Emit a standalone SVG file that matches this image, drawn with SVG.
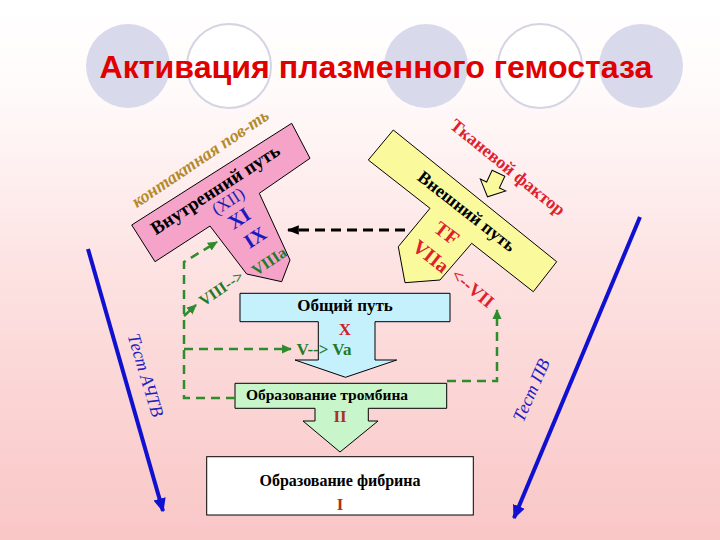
<svg xmlns="http://www.w3.org/2000/svg" width="720" height="540" viewBox="0 0 720 540">
<defs>
<linearGradient id="bg" x1="0" y1="0" x2="0" y2="1">
<stop offset="0" stop-color="#ffffff"/>
<stop offset="0.17" stop-color="#fffafa"/>
<stop offset="0.5" stop-color="#fde2e2"/>
<stop offset="1" stop-color="#f9c6c6"/>
</linearGradient>
<marker id="ag" viewBox="0 0 10 10" refX="9" refY="5" markerWidth="10" markerHeight="10" markerUnits="userSpaceOnUse" orient="auto"><path d="M0,0.5 L10,5 L0,9.5 z" fill="#2e8b2e"/></marker>
<marker id="ab" viewBox="0 0 10 10" refX="9" refY="5" markerWidth="14" markerHeight="14" markerUnits="userSpaceOnUse" orient="auto"><path d="M0,0.5 L10,5 L0,9.5 z" fill="#1010d0"/></marker>
<marker id="ak" viewBox="0 0 10 10" refX="9" refY="5" markerWidth="12" markerHeight="12" markerUnits="userSpaceOnUse" orient="auto"><path d="M0,1 L10,5 L0,9 z" fill="#000"/></marker>
</defs>
<style>
.shape{stroke:#000;stroke-width:1}
.gd{fill:none;stroke:#2e8b2e;stroke-width:2.5;stroke-dasharray:9 6}
.kd{fill:none;stroke:#000;stroke-width:3;stroke-dasharray:10 6}
.bl{fill:none;stroke:#1010d0;stroke-width:4}
.t{font-family:"Liberation Serif","DejaVu Serif",serif;font-weight:bold;text-anchor:middle}
.ti{font-family:"Liberation Serif","DejaVu Serif",serif;font-style:italic;text-anchor:middle}
.circf{fill:#d9d9ec}
.circo{fill:#ffffff;stroke:#d4d4e4;stroke-width:2}
</style>
<rect x="0" y="0" width="720" height="540" fill="url(#bg)"/>
<g id="decor">
<circle class="circf" cx="128" cy="66" r="42"/>
<circle class="circo" cx="229" cy="66" r="42"/>
<circle class="circf" cx="426" cy="66" r="42"/>
<circle class="circo" cx="540" cy="66" r="42"/>
<circle class="circf" cx="641" cy="66" r="42"/>
</g>
<text id="title" x="376" y="78" font-family="'Liberation Sans',Arial,sans-serif" font-weight="bold" font-size="31" fill="#e00000" text-anchor="middle" textLength="553" lengthAdjust="spacingAndGlyphs">Активация плазменного гемостаза</text>

<g id="connectors">
<line class="bl" x1="88" y1="249" x2="163" y2="511" marker-end="url(#ab)"/>
<line class="bl" x1="640" y1="217" x2="514" y2="518" marker-end="url(#ab)"/>
</g>

<g id="intrinsic">
<polygon class="shape" fill="#f5a3c9" points="131.7,225 291.7,123.3 310,158.3 259.3,193.3 290,260 281.7,281.7 246.7,274 210,226 155,261.7"/>
<text class="ti" font-weight="bold" font-size="18" fill="#b58a2a" transform="translate(200,158) rotate(-34)" dy="0.35em">контактная пов-ть</text>
<text class="t" font-size="19" fill="#000" transform="translate(215,189) rotate(-33)" dy="0.35em">Внутренний путь</text>
<text font-family="'Liberation Serif',serif" text-anchor="middle" font-size="17" fill="#2020b0" transform="translate(228,201) rotate(-33)" dy="0.35em">(XII)</text>
<text class="t" font-size="20" fill="#1a1ac0" transform="translate(239,218) rotate(-33)" dy="0.35em">XI</text>
<text class="t" font-size="20" fill="#1a1ac0" transform="translate(255,237) rotate(-33)" dy="0.35em">IX</text>
<text class="t" font-size="16" fill="#1f7a2a" transform="translate(269,261) rotate(-34)" dy="0.35em">VIIIa</text>
</g>

<g id="extrinsic">
<polygon class="shape" fill="#fafa9c" points="393.3,130 556.7,261.7 533.3,291.7 471.7,243.3 440,280 405,282.7 398.3,246.7 430,208.3 368.3,160"/>
<polygon class="shape" fill="#fafa9c" transform="translate(493,185) rotate(25)" points="-7,-13 7,-13 7,0 14,0 0,13 -14,0 -7,0"/>
<text class="t" font-size="18" fill="#e0202e" transform="translate(508,167) rotate(39)" dy="0.35em">Тканевой фактор</text>
<text class="t" font-size="18" fill="#000" transform="translate(467,211) rotate(38)" dy="0.35em">Внешний путь</text>
<text class="t" font-size="20" fill="#e0202e" transform="translate(447,233) rotate(38)" dy="0.35em">TF</text>
<text class="t" font-size="20" fill="#e0202e" transform="translate(431,256) rotate(38)" dy="0.35em">VIIa</text>
<text class="t" font-size="18" fill="#e0202e" transform="translate(473,288) rotate(40)" dy="0.35em">&lt;--VII</text>
</g>

<g id="common">
<polygon class="shape" fill="#c4f1fc" points="240,293.3 450,293.3 450,321.7 375,321.7 375,360 396.7,360 345.5,377.3 295,360 318.3,360 318.3,321.7 240,321.7"/>
<text class="t" font-size="17" fill="#000" x="345" y="311">Общий путь</text>
<text class="t" font-size="17" fill="#d02020" x="345" y="335">X</text>
<text class="t" font-size="17" fill="#1f7a2a" x="324" y="355">V--&gt; Va</text>
</g>

<g id="thrombin">
<polygon class="shape" fill="#c9f5cb" points="235,383.3 446.7,383.3 446.7,408.3 368.3,408.3 368.3,421 378,421 340,452 303,421 315,421 315,408.3 235,408.3"/>
<text class="t" font-size="15.5" fill="#000" x="327" y="400">Образование тромбина</text>
<text class="t" font-size="17" fill="#b03020" x="340" y="422">II</text>
</g>

<g id="fibrin">
<rect class="shape" fill="#ffffff" x="206.7" y="456.7" width="266.6" height="58.3"/>
<text class="t" font-size="16" fill="#000" x="340" y="486">Образование фибрина</text>
<text class="t" font-size="17" fill="#b03020" x="340" y="510">I</text>
</g>

<g id="links">
<polyline class="gd" points="235,398 184,398 184,262 217,242" marker-end="url(#ag)"/>
<line class="gd" x1="184" y1="316" x2="196" y2="305" marker-end="url(#ag)"/>
<line class="gd" x1="184" y1="349" x2="291" y2="349" marker-end="url(#ag)"/>
<polyline class="gd" points="447,381 497,381 497,310" marker-end="url(#ag)"/>
<line class="kd" x1="405" y1="230" x2="288" y2="230" marker-end="url(#ak)"/>
<text class="t" font-size="16" fill="#1f7a2a" transform="translate(221,288) rotate(-34)" dy="0.35em">VIII--&gt;</text>
<text class="ti" font-size="18" fill="#2020c0" transform="translate(146,375) rotate(73)" dy="0.35em">Тест АЧТВ</text>
<text class="ti" font-size="18" fill="#2020c0" transform="translate(531,390) rotate(-66)" dy="0.35em">Тест ПВ</text>
</g>
</svg>
